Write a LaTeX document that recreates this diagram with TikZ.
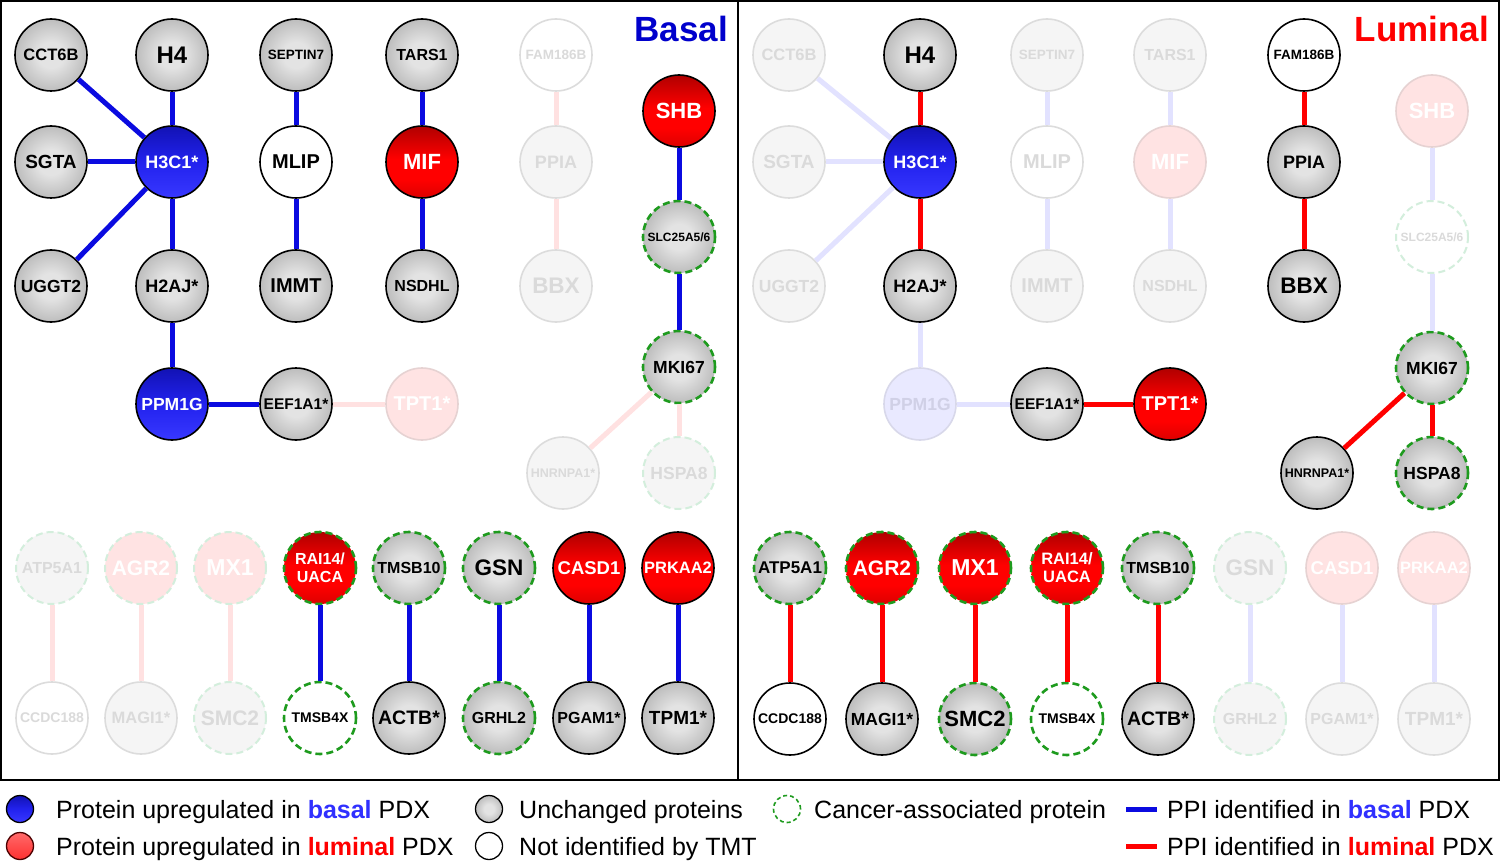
\documentclass[tikz,border=0pt]{standalone}
\usepackage{fontspec}
\setmainfont{Liberation Sans}
\definecolor{rT}{HTML}{B00000}
\definecolor{rM}{HTML}{FF0000}
\definecolor{rB}{HTML}{DD0000}
\definecolor{bT}{HTML}{1212B4}
\definecolor{bM}{HTML}{2222EE}
\definecolor{bB}{HTML}{3838FF}
\definecolor{gI}{HTML}{E3E3E3}
\definecolor{gO}{HTML}{BDBDBD}
\definecolor{lrT}{HTML}{FF6A6A}
\definecolor{lrB}{HTML}{FF3030}
\definecolor{fgf}{HTML}{F5F5F5}
\definecolor{fgd}{HTML}{DCDCDC}
\definecolor{fgt}{HTML}{DADADA}
\definecolor{frf}{HTML}{FFE3E3}
\definecolor{frd}{HTML}{E6D2D2}
\definecolor{fbf}{HTML}{E9E9FF}
\definecolor{fbd}{HTML}{D8D8EA}
\definecolor{fbt}{HTML}{D0D0E6}
\definecolor{fcg}{HTML}{D3EEDC}
\definecolor{cg}{HTML}{1E9B1E}
\definecolor{pinkE}{HTML}{FFE1E1}
\definecolor{lbE}{HTML}{E2E2FF}
\definecolor{eblue}{HTML}{0B0BE0}
\definecolor{ered}{HTML}{FF0000}
\definecolor{basalT}{HTML}{0000CC}
\definecolor{lblue}{HTML}{3030FF}
\pgfdeclareverticalshading{redsh}{100bp}{color(0bp)=(rB); color(25bp)=(rB); color(38bp)=(rM); color(52bp)=(rM); color(75bp)=(rT); color(100bp)=(rT)}
\pgfdeclareverticalshading{bluesh}{100bp}{color(0bp)=(bB); color(25bp)=(bB); color(50bp)=(bM); color(75bp)=(bT); color(100bp)=(bT)}
\pgfdeclareverticalshading{legredsh}{100bp}{color(0bp)=(lrB); color(25bp)=(lrB); color(75bp)=(lrT); color(100bp)=(lrT)}
\pgfdeclareradialshading{graysh}{\pgfpoint{0bp}{0bp}}{color(0bp)=(gI); color(9bp)=(gI); color(25bp)=(gO); color(50bp)=(gO)}
\newcommand\fs[1]{\fontsize{#1}{#1}\selectfont\bfseries}
\newcommand\fl{\fontsize{25}{30}\selectfont}
\begin{document}
\begin{tikzpicture}[x=1pt,y=-1pt,
 nd/.style={circle,minimum size=72pt,inner sep=0pt,line width=1.6pt},
 ngray/.style={nd,draw=black,shade,shading=graysh,text=black},
 nwhite/.style={nd,draw=black,fill=white,text=black},
 nred/.style={nd,draw=black,shade,shading=redsh,text=white},
 nblue/.style={nd,draw=black,shade,shading=bluesh,text=white},
 ncan/.style={draw=cg,line width=2.6pt,dash pattern=on 7pt off 4pt},
 fgray/.style={nd,draw=fgd,fill=fgf,text=fgt},
 fwhite/.style={nd,draw=fgd,fill=white,text=fgt},
 fred/.style={nd,draw=frd,fill=frf,text=white},
 fblue/.style={nd,draw=fbd,fill=fbf,text=fbt},
 fcan/.style={draw=fcg,line width=2pt,dash pattern=on 7pt off 4pt},
 eb/.style={line width=5pt,draw=eblue},
 ered/.style={line width=5pt,draw=ered},
 efb/.style={line width=5pt,draw=lbE},
 efr/.style={line width=5pt,draw=pinkE},
 lcirc/.style={circle,minimum size=27pt,inner sep=0pt,line width=1.3pt},
 ltxt/.style={anchor=base west,inner sep=0pt,font=\fl},
]
\useasboundingbox (0,0) rectangle (1500,861);
\fill[white] (0,0) rectangle (1500,861);
% frames
\draw[line width=2pt] (1,1) rectangle (1499,780);
\draw[line width=2pt] (738,1) -- (738,780);
% titles
\node[anchor=east,inner sep=0pt,font=\fs{35},text=basalT] (tb) at (728,29) {Basal};
\node[anchor=east,inner sep=0pt,font=\fs{35},text=red] (tl) at (1489,29) {Luminal};

% ===== LEFT PANEL =====
\node[ngray,font=\fs{16.5}] (lCCT) at (51,55) {CCT6B};
\node[ngray,font=\fs{24}] (lH4) at (172,55) {H4};
\node[ngray,font=\fs{13.5}] (lSEP) at (296,55) {SEPTIN7};
\node[ngray,font=\fs{16}] (lTAR) at (422,55) {TARS1};
\node[fwhite,font=\fs{13.5}] (lFAM) at (556,55) {FAM186B};
\node[nred,font=\fs{22}] (lSHB) at (679,111) {SHB};
\node[ngray,font=\fs{19}] (lSGT) at (51,162) {SGTA};
\node[nblue,font=\fs{18}] (lH3) at (172,162) {H3C1*};
\node[nwhite,font=\fs{20}] (lMLI) at (296,162) {MLIP};
\node[nred,font=\fs{22}] (lMIF) at (422,162) {MIF};
\node[fgray,font=\fs{18}] (lPPI) at (556,162) {PPIA};
\node[ngray,ncan,font=\fs{12}] (lSLC) at (679,237) {SLC25A5/6};
\node[ngray,font=\fs{17.5}] (lUGG) at (51,286) {UGGT2};
\node[ngray,font=\fs{18}] (lH2) at (172,286) {H2AJ*};
\node[ngray,font=\fs{20}] (lIMM) at (296,286) {IMMT};
\node[ngray,font=\fs{16}] (lNSD) at (422,286) {NSDHL};
\node[fgray,font=\fs{22.5}] (lBBX) at (556,286) {BBX};
\node[ngray,ncan,font=\fs{17.5}] (lMKI) at (679,367) {MKI67};
\node[nblue,font=\fs{17.5}] (lPPM) at (172,404) {PPM1G};
\node[ngray,font=\fs{15.5}] (lEEF) at (296,404) {EEF1A1*};
\node[fred,font=\fs{20}] (lTPT) at (422,404) {TPT1*};
\node[fgray,font=\fs{12.5}] (lHNR) at (563,473) {HNRNPA1*};
\node[fgray,fcan,font=\fs{17.5}] (lHSP) at (679,473) {HSPA8};
% bottom left
\node[fgray,fcan,font=\fs{16}] (lATP) at (52,568) {ATP5A1};
\node[fred,fcan,font=\fs{21}] (lAGR) at (141,568) {AGR2};
\node[fred,fcan,font=\fs{23}] (lMX1) at (230,568) {MX1};
\node[nred,ncan,font=\fontsize{16}{18}\selectfont\bfseries,align=center] (lRAI) at (320,568) {RAI14/\\UACA};
\node[ngray,ncan,font=\fs{16}] (lT10) at (409,568) {TMSB10};
\node[ngray,ncan,font=\fs{22.5}] (lGSN) at (499,568) {GSN};
\node[nred,font=\fs{18.5}] (lCAS) at (589,568) {CASD1};
\node[nred,font=\fs{16.5}] (lPRK) at (678,568) {PRKAA2};
\node[fwhite,font=\fs{14}] (lCCD) at (52,718) {CCDC188};
\node[fgray,font=\fs{16.5}] (lMAG) at (141,718) {MAGI1*};
\node[fgray,fcan,font=\fs{21}] (lSMC) at (230,718) {SMC2};
\node[nwhite,ncan,font=\fs{14}] (lT4X) at (320,718) {TMSB4X};
\node[ngray,font=\fs{19.5}] (lACT) at (409,718) {ACTB*};
\node[ngray,ncan,font=\fs{16}] (lGRH) at (499,718) {GRHL2};
\node[ngray,font=\fs{16}] (lPGA) at (589,718) {PGAM1*};
\node[ngray,font=\fs{19}] (lTPM) at (678,718) {TPM1*};
% left edges
\draw[eb] (lCCT) -- (lH3);
\draw[eb] (lH4) -- (lH3);
\draw[eb] (lSGT) -- (lH3);
\draw[eb] (lUGG) -- (lH3);
\draw[eb] (lH3) -- (lH2);
\draw[eb] (lH2) -- (lPPM);
\draw[eb] (lPPM) -- (lEEF);
\draw[efr] (lEEF) -- (lTPT);
\draw[eb] (lSEP) -- (lMLI);
\draw[eb] (lMLI) -- (lIMM);
\draw[eb] (lTAR) -- (lMIF);
\draw[eb] (lMIF) -- (lNSD);
\draw[efr] (lFAM) -- (lPPI);
\draw[efr] (lPPI) -- (lBBX);
\draw[eb] (lSHB) -- (lSLC);
\draw[eb] (lSLC) -- (lMKI);
\draw[efr] (lMKI) -- (lHNR);
\draw[efr] (lMKI) -- (lHSP);
\draw[efr] (lATP) -- (lCCD);
\draw[efr] (lAGR) -- (lMAG);
\draw[efr] (lMX1) -- (lSMC);
\draw[eb] (lRAI) -- (lT4X);
\draw[eb] (lT10) -- (lACT);
\draw[eb] (lGSN) -- (lGRH);
\draw[eb] (lCAS) -- (lPGA);
\draw[eb] (lPRK) -- (lTPM);

% ===== RIGHT PANEL =====
\node[fgray,font=\fs{16.5}] (rCCT) at (789,55) {CCT6B};
\node[ngray,font=\fs{24}] (rH4) at (920,55) {H4};
\node[fgray,font=\fs{13.5}] (rSEP) at (1047,55) {SEPTIN7};
\node[fgray,font=\fs{16}] (rTAR) at (1170,55) {TARS1};
\node[nwhite,font=\fs{13.5}] (rFAM) at (1304,55) {FAM186B};
\node[fred,font=\fs{22}] (rSHB) at (1432,111) {SHB};
\node[fgray,font=\fs{19}] (rSGT) at (789,162) {SGTA};
\node[nblue,font=\fs{18}] (rH3) at (920,162) {H3C1*};
\node[fwhite,font=\fs{20}] (rMLI) at (1047,162) {MLIP};
\node[fred,font=\fs{22}] (rMIF) at (1170,162) {MIF};
\node[ngray,font=\fs{18}] (rPPI) at (1304,162) {PPIA};
\node[fwhite,fcan,font=\fs{12}] (rSLC) at (1432,237) {SLC25A5/6};
\node[fgray,font=\fs{17.5}] (rUGG) at (789,286) {UGGT2};
\node[ngray,font=\fs{18}] (rH2) at (920,286) {H2AJ*};
\node[fgray,font=\fs{20}] (rIMM) at (1047,286) {IMMT};
\node[fgray,font=\fs{16}] (rNSD) at (1170,286) {NSDHL};
\node[ngray,font=\fs{22.5}] (rBBX) at (1304,286) {BBX};
\node[ngray,ncan,font=\fs{17.5}] (rMKI) at (1432,368) {MKI67};
\node[fblue,font=\fs{17.5}] (rPPM) at (920,404) {PPM1G};
\node[ngray,font=\fs{15.5}] (rEEF) at (1047,404) {EEF1A1*};
\node[nred,font=\fs{20}] (rTPT) at (1170,404) {TPT1*};
\node[ngray,font=\fs{12.5}] (rHNR) at (1317,473) {HNRNPA1*};
\node[ngray,ncan,font=\fs{17.5}] (rHSP) at (1432,473) {HSPA8};
% bottom right
\node[ngray,ncan,font=\fs{17}] (rATP) at (790,568) {ATP5A1};
\node[nred,ncan,font=\fs{21}] (rAGR) at (882,568) {AGR2};
\node[nred,ncan,font=\fs{23}] (rMX1) at (975,568) {MX1};
\node[nred,ncan,font=\fontsize{16.5}{18}\selectfont\bfseries,align=center] (rRAI) at (1067,568) {RAI14/\\UACA};
\node[ngray,ncan,font=\fs{16}] (rT10) at (1158,568) {TMSB10};
\node[fgray,fcan,font=\fs{22.5}] (rGSN) at (1250,568) {GSN};
\node[fred,font=\fs{18.5}] (rCAS) at (1342,568) {CASD1};
\node[fred,font=\fs{16.5}] (rPRK) at (1434,568) {PRKAA2};
\node[nwhite,font=\fs{14}] (rCCD) at (790,719) {CCDC188};
\node[ngray,font=\fs{17.5}] (rMAG) at (882,719) {MAGI1*};
\node[ngray,ncan,font=\fs{22}] (rSMC) at (975,719) {SMC2};
\node[nwhite,ncan,font=\fs{14}] (rT4X) at (1067,719) {TMSB4X};
\node[ngray,font=\fs{19.5}] (rACT) at (1158,719) {ACTB*};
\node[fgray,fcan,font=\fs{16}] (rGRH) at (1250,719) {GRHL2};
\node[fgray,font=\fs{16}] (rPGA) at (1342,719) {PGAM1*};
\node[fgray,font=\fs{19}] (rTPM) at (1434,719) {TPM1*};
% right edges
\draw[efb] (rCCT) -- (rH3);
\draw[ered] (rH4) -- (rH3);
\draw[efb] (rSGT) -- (rH3);
\draw[efb] (rUGG) -- (rH3);
\draw[ered] (rH3) -- (rH2);
\draw[efb] (rH2) -- (rPPM);
\draw[efb] (rPPM) -- (rEEF);
\draw[ered] (rEEF) -- (rTPT);
\draw[efb] (rSEP) -- (rMLI);
\draw[efb] (rMLI) -- (rIMM);
\draw[efb] (rTAR) -- (rMIF);
\draw[efb] (rMIF) -- (rNSD);
\draw[ered] (rFAM) -- (rPPI);
\draw[ered] (rPPI) -- (rBBX);
\draw[efb] (rSHB) -- (rSLC);
\draw[efb] (rSLC) -- (rMKI);
\draw[ered] (rMKI) -- (rHNR);
\draw[ered] (rMKI) -- (rHSP);
\draw[ered] (rATP) -- (rCCD);
\draw[ered] (rAGR) -- (rMAG);
\draw[ered] (rMX1) -- (rSMC);
\draw[ered] (rRAI) -- (rT4X);
\draw[ered] (rT10) -- (rACT);
\draw[efb] (rGSN) -- (rGRH);
\draw[efb] (rCAS) -- (rPGA);
\draw[efb] (rPRK) -- (rTPM);

% ===== LEGEND =====
\node[lcirc,draw=black,shade,shading=bluesh] (k1) at (20,809) {};
\node[ltxt] (k1t) at (56,818) {Protein upregulated in \textcolor{lblue}{\textbf{basal}} PDX};
\node[lcirc,draw=black!70!red,shade,shading=legredsh] (k2) at (20,846) {};
\node[ltxt] (k2t) at (56,855) {Protein upregulated in \textcolor{red}{\textbf{luminal}} PDX};
\node[lcirc,draw=black,shade,shading=graysh] (k3) at (489,809) {};
\node[ltxt] (k3t) at (519,818) {Unchanged proteins};
\node[lcirc,draw=black,fill=white] (k4) at (489,846) {};
\node[ltxt] (k4t) at (519,855) {Not identified by TMT};
\node[lcirc,draw=cg,line width=1.6pt,dash pattern=on 4pt off 3pt] (k5) at (787,809) {};
\node[ltxt] (k5t) at (814,818) {Cancer-associated protein};
\coordinate (kb1) at (1126,809);
\coordinate (kb2) at (1157,809);
\draw[eb] (kb1) -- (kb2);
\node[ltxt] (k6t) at (1167,818) {PPI identified in \textcolor{lblue}{\textbf{basal}} PDX};
\coordinate (kr1) at (1126,846);
\coordinate (kr2) at (1157,846);
\draw[ered] (kr1) -- (kr2);
\node[ltxt] (k7t) at (1167,855) {PPI identified in \textcolor{red}{\textbf{luminal}} PDX};
\end{tikzpicture}
\end{document}
